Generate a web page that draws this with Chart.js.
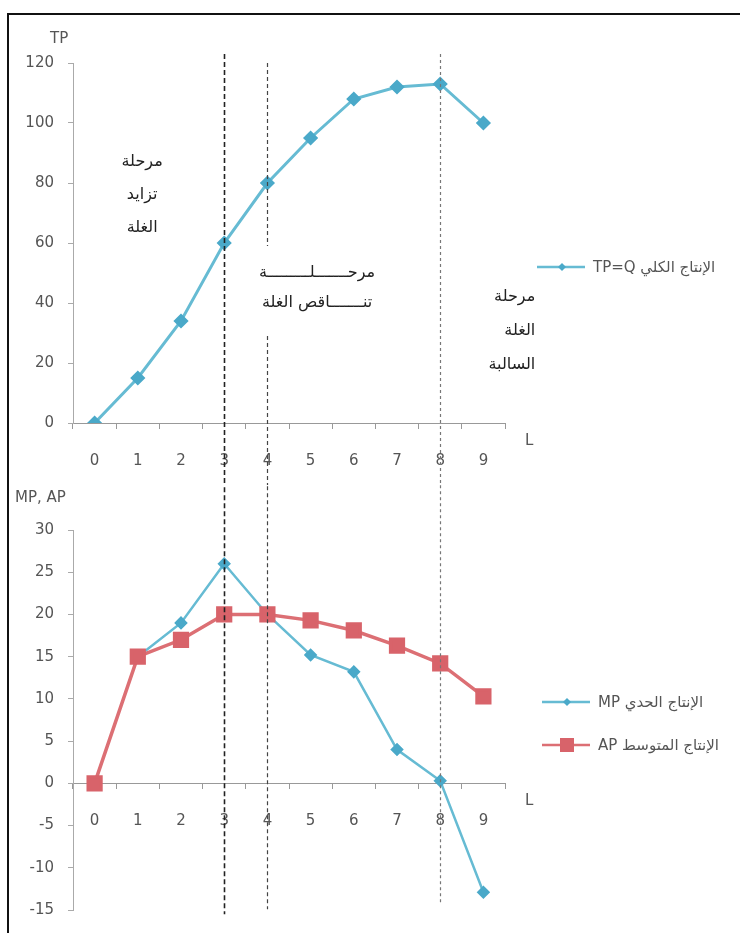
<!DOCTYPE html>
<html>
<head>
<meta charset="utf-8">
<script src="https://cdn.jsdelivr.net/npm/chart.js@4.4.1/dist/chart.umd.min.js"></script>
<style>
  body { margin: 0; background: #fff; }
  #frame { position: absolute; left: 7px; top: 13px; width: 733px; height: 920px;
           border-top: 2px solid #111; border-left: 2px solid #111; }
  canvas { position: absolute; }
  #tpChart { left: 10px; top: 15px; }
  #mpChart { left: 10px; top: 485px; }
</style>
</head>
<body>
<div id="frame"></div>
<canvas id="tpChart" width="730" height="470"></canvas>
<canvas id="mpChart" width="730" height="448"></canvas>
<script>
// labour units L
const labels = ['0', '1', '2', '3', '4', '5', '6', '7', '8', '9'];
// total product
const tp = [0, 15, 34, 60, 80, 95, 108, 112, 113, 100];
// marginal product (none at L = 0)
const mp = [null, 15, 19, 26, 20, 15.2, 13.2, 4, 0.3, -12.9];
// average product
const ap = [0, 15, 17, 20, 20, 19.3, 18.1, 16.3, 14.2, 10.3];

const tpAxis = { min: 0, max: 120, step: 20 };
const mpAxis = { min: -15, max: 30, step: 5 };

const seriesNames = ['الإنتاج الكلي TP=Q', 'الإنتاج الحدي MP', 'الإنتاج المتوسط AP'];
const phaseNames = [
  ['مرحلة', 'تزايد', 'الغلة'],
  ['مرحـــــــلـــــــــة', 'تنـــــــاقص الغلة'],
  ['مرحلة', 'الغلة', 'السالبة']
];

const CYAN = '#66bbd3', CYAN_DARK = '#4aa9c9';
const RED = '#dc6f74', RED_DARK = '#d8636a';
const TICK_FONT = { family: 'DejaVu Sans', size: 15 };

// dashed phase lines, phase text, legend and axis titles
const decor = {
  id: 'decor',
  afterDatasetsDraw(chart, args, o) {
    const { ctx, chartArea: area, scales: { x, y } } = chart;
    ctx.save();
    for (const g of o.guides) {
      const px = Math.round(x.getPixelForValue(g.at)) + 0.5;
      ctx.strokeStyle = g.color;
      ctx.lineWidth = g.width;
      ctx.setLineDash(g.dash);
      for (const [a, b] of g.spans) {
        ctx.beginPath();
        ctx.moveTo(px, y.getPixelForValue(a));
        ctx.lineTo(px, y.getPixelForValue(b));
        ctx.stroke();
      }
    }
    ctx.setLineDash([]);

    ctx.fillStyle = '#222';
    ctx.font = '16px "DejaVu Sans"';
    ctx.direction = 'rtl';
    ctx.textBaseline = 'middle';
    for (const n of o.notes) {
      ctx.textAlign = n.align;
      const nx = x.getPixelForValue(n.at[0]);
      const ny = y.getPixelForValue(n.at[1]);
      n.lines.forEach((t, i) => ctx.fillText(t, nx, ny + i * n.step));
    }

    // legend rows: line with marker, then label
    ctx.font = '15px "DejaVu Sans"';
    ctx.textAlign = 'left';
    for (const item of o.legend) {
      const ds = chart.data.datasets[item.index];
      ctx.strokeStyle = ds.borderColor;
      ctx.lineWidth = 2.5;
      ctx.beginPath();
      ctx.moveTo(item.x, item.y);
      ctx.lineTo(item.x + 48, item.y);
      ctx.stroke();
      const cx = item.x + 25;
      ctx.fillStyle = ds.pointBackgroundColor;
      ctx.beginPath();
      if (ds.pointStyle === 'rect') {
        ctx.rect(cx - 7, item.y - 7, 14, 14);
      } else {
        ctx.moveTo(cx, item.y - 4); ctx.lineTo(cx + 4, item.y);
        ctx.lineTo(cx, item.y + 4); ctx.lineTo(cx - 4, item.y);
        ctx.closePath();
      }
      ctx.fill();
      ctx.fillStyle = '#555';
      ctx.fillText(ds.label, item.x + 56, item.y + 1);
    }

    ctx.direction = 'ltr';
    ctx.fillStyle = '#555';
    ctx.font = '15px "DejaVu Sans"';
    ctx.textAlign = 'left';
    ctx.fillText(o.title.text, o.title.x, o.title.y);
    ctx.fillText('L', area.right + 20, y.getPixelForValue(0) + 18);
    ctx.restore();
  }
};

function xScale() {
  return {
    type: 'category',
    offset: true,
    position: { y: 0 },
    grid: { offset: true, drawOnChartArea: false, tickLength: 5, color: '#999' },
    border: { color: '#999' },
    ticks: { padding: 24, color: '#555', font: TICK_FONT }
  };
}

function yScale(r) {
  return {
    min: r.min, max: r.max,
    grid: { drawOnChartArea: false, tickLength: 5, color: '#aaa' },
    border: { color: '#aaa' },
    ticks: { stepSize: r.step, padding: 14, color: '#555', font: TICK_FONT },
    afterFit: s => { s.width = 50; }
  };
}

new Chart(document.getElementById('tpChart'), {
  type: 'line',
  data: {
    labels,
    datasets: [{
      label: seriesNames[0], data: tp,
      borderColor: CYAN, borderWidth: 3,
      pointStyle: 'rectRot', pointRadius: 5.5,
      pointBackgroundColor: CYAN_DARK, pointBorderColor: CYAN_DARK, tension: 0
    }]
  },
  options: {
    responsive: false, animation: false,
    layout: { padding: { left: 13, top: 48, right: 235, bottom: 62 } },
    scales: { x: xScale(), y: yScale(tpAxis) },
    plugins: {
      legend: { display: false }, tooltip: { enabled: false },
      decor: {
        guides: [
          { at: 3, spans: [[123, -22]], color: '#222', width: 1.6, dash: [5, 3] },
          { at: 4, spans: [[120, 59], [29, -22]], color: '#444', width: 1.2, dash: [4, 3] },
          { at: 8, spans: [[123, -22]], color: '#777', width: 1.2, dash: [3, 3] }
        ],
        notes: [
          { lines: phaseNames[0], at: [1.1, 87], step: 33, align: 'center' },
          { lines: phaseNames[1], at: [5.15, 50], step: 30, align: 'center' },
          { lines: phaseNames[2], at: [10.2, 42], step: 34, align: 'right' }
        ],
        legend: [{ index: 0, x: 527, y: 252 }],
        title: { text: 'TP', x: 40, y: 24 }
      }
    }
  },
  plugins: [decor]
});

new Chart(document.getElementById('mpChart'), {
  type: 'line',
  data: {
    labels,
    datasets: [{
      label: seriesNames[1], data: mp, order: 1,
      borderColor: CYAN, borderWidth: 2.5,
      pointStyle: 'rectRot', pointRadius: 5,
      pointBackgroundColor: CYAN_DARK, pointBorderColor: CYAN_DARK, tension: 0
    }, {
      label: seriesNames[2], data: ap, order: 0,
      borderColor: RED, borderWidth: 3.5,
      pointStyle: 'rect', pointRadius: 9,
      pointBackgroundColor: RED_DARK, pointBorderColor: RED_DARK, tension: 0
    }]
  },
  options: {
    responsive: false, animation: false,
    layout: { padding: { left: 13, top: 45, right: 235, bottom: 10 } },
    scales: { x: xScale(), y: yScale(mpAxis) },
    plugins: {
      legend: { display: false }, tooltip: { enabled: false },
      decor: {
        guides: [
          { at: 3, spans: [[36, -15.5]], color: '#222', width: 1.6, dash: [5, 3] },
          { at: 4, spans: [[36, -14.9]], color: '#444', width: 1.2, dash: [4, 3] },
          { at: 8, spans: [[36, -14.4]], color: '#777', width: 1.2, dash: [3, 3] }
        ],
        notes: [],
        legend: [{ index: 0, x: 532, y: 217 }, { index: 1, x: 532, y: 260 }],
        title: { text: 'MP, AP', x: 5, y: 13 }
      }
    }
  },
  plugins: [decor]
});
</script>
</body>
</html>
